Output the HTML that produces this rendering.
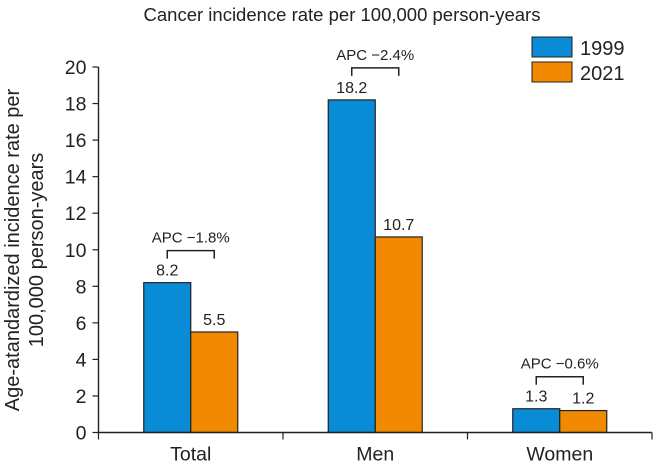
<!DOCTYPE html>
<html><head><meta charset="utf-8"><style>
body{margin:0;background:#fff;}
svg{display:block;font-family:"Liberation Sans",Arial,sans-serif;}
</style></head><body>
<svg id="chart" width="654" height="465" xmlns="http://www.w3.org/2000/svg">
<text x="342" y="21" font-size="18.5" text-anchor="middle" fill="#222">Cancer incidence rate per 100,000 person-years</text>
<text transform="translate(24,250) rotate(-90)" font-size="20" text-anchor="middle" fill="#222"><tspan x="0" dy="-5">Age-atandardized incidence rate per</tspan><tspan x="0" dy="24">100,000 person-years</tspan></text>
<g>
<rect x="532" y="37" width="40" height="20" fill="#0a8bd6" stroke="#222" stroke-width="1"/>
<text x="580" y="55" font-size="20" fill="#222">1999</text>
<rect x="532" y="62" width="40" height="20" fill="#f18a00" stroke="#222" stroke-width="1"/>
<text x="580" y="80" font-size="20" fill="#222">2021</text>
</g>
<g id="plot"></g>
</svg>
<script>
const categories=["Total","Men","Women"];
const values1999=[8.2,18.2,1.3];
const values2021=[5.5,10.7,1.2];
const apcLabels=["APC \u22121.8%","APC \u22122.4%","APC \u22120.6%"];
const yTicks=[0,2,4,6,8,10,12,14,16,18,20];
const NS="http://www.w3.org/2000/svg";
const x0=98.5,x1=652,y0=432.5,yTop=67;
const yMax=20;
function y(v){return y0-(v/yMax)*(y0-yTop);}
const band=(x1-x0)/categories.length;
function xc(i){return x0+band*(i+0.5);}
const bw=47;
const g=document.getElementById('plot');
function mk(tag,attrs){const e=document.createElementNS(NS,tag);for(const k in attrs)e.setAttribute(k,attrs[k]);g.appendChild(e);return e;}
yTicks.forEach(t=>{
  const l=mk('line',{x1:x0-6,x2:x0,y1:y(t),y2:y(t),stroke:'#222','stroke-width':1.2});
  
  
  const tx=mk('text',{x:x0-12,y:y(t)+7,'font-size':19.5,'text-anchor':'end',fill:'#222'});
  tx.textContent=t;
  
  
});
categories.forEach((c,i)=>{
  const cx=xc(i);
  const v1=values1999[i],v2=values2021[i];
  const b1=mk('rect',{x:cx-bw,y:y(v1),width:bw,height:y0-y(v1),fill:'#0a8bd6',stroke:'#222','stroke-width':1.2});
  
  
  const b2=mk('rect',{x:cx,y:y(v2),width:bw,height:y0-y(v2),fill:'#f18a00',stroke:'#222','stroke-width':1.2});
  
  
  const l1=mk('text',{x:cx-bw/2,y:y(v1)-7,'font-size':16,'text-anchor':'middle',fill:'#222'});
  l1.textContent=v1.toFixed(1);
  
  
  const l2=mk('text',{x:cx+bw/2,y:y(v2)-7,'font-size':16,'text-anchor':'middle',fill:'#222'});
  l2.textContent=v2.toFixed(1);
  
  
  const by=y(Math.max(v1,v2))-32;
  const br=mk('path',{d:`M${cx-bw/2},${by+8}V${by}H${cx+bw/2}V${by+8}`,fill:'none',stroke:'#222','stroke-width':1.5});
  
  
  const at=mk('text',{x:cx,y:by-8,'font-size':15,'text-anchor':'middle',fill:'#222'});
  at.textContent=apcLabels[i];
  
  
  const ct=mk('text',{x:cx,y:y0+28,'font-size':19.5,'text-anchor':'middle',fill:'#222'});
  ct.textContent=c;
  
  
  const tk=mk('line',{x1:x0+band*i,x2:x0+band*i,y1:y0,y2:y0+7,stroke:'#222','stroke-width':1.2});
  
  
});
const tkEnd=mk('line',{x1:x1,x2:x1,y1:y0,y2:y0+7,stroke:'#222','stroke-width':1.2});


const ya=mk('line',{x1:x0,x2:x0,y1:yTop,y2:y0,stroke:'#222','stroke-width':1.4});


const xa=mk('line',{x1:x0,x2:x1,y1:y0,y2:y0,stroke:'#222','stroke-width':1.4});


</script>
</body></html>
